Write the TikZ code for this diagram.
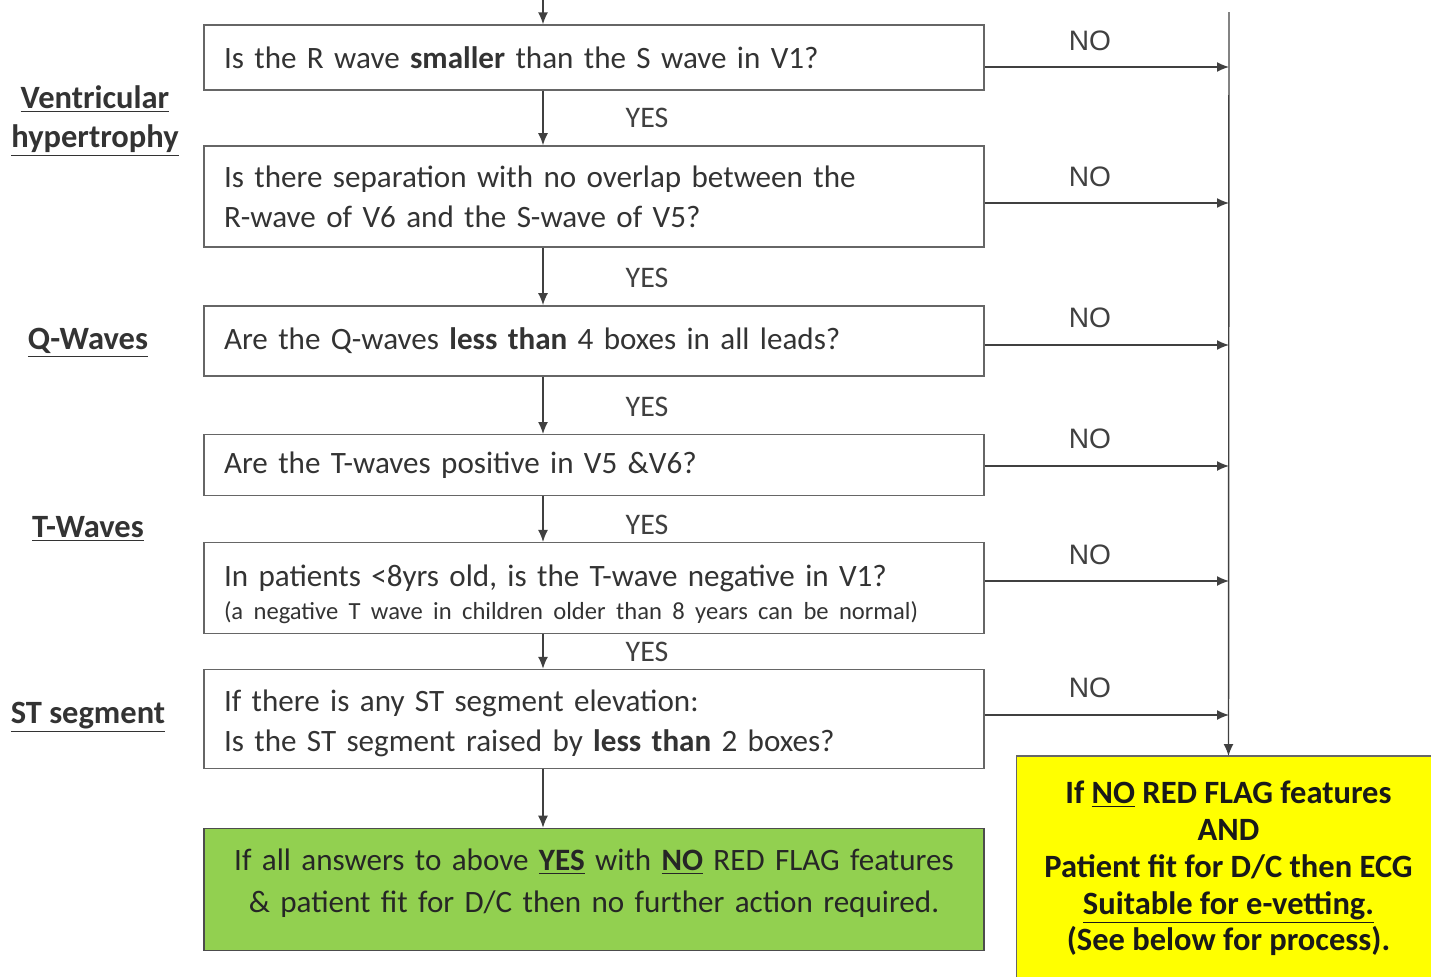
\documentclass[tikz,border=0pt]{standalone}
\usepackage{fontspec}
\setmainfont{Carlito}
\newfontfamily\arialfont{Liberation Sans}
\usetikzlibrary{arrows.meta, positioning}

\definecolor{okgreen}{RGB}{146,208,80}
\definecolor{vetyellow}{RGB}{255,255,0}

\begin{document}
\begin{tikzpicture}[>={Latex[length=2.4mm,width=2mm]}, node distance=1.1cm,
  qbox/.style={draw=black!60, line width=0.8pt, text width=14.8cm,
               inner xsep=0.4cm, align=left, text=black!80,
               font=\fontsize{17.7}{22.8}\selectfont},
  nolab/.style={font=\arialfont\fontsize{16}{18}\selectfont, text=black!75},
  yeslab/.style={font=\fontsize{17}{20}\selectfont, text=black!75},
  sidelab/.style={font=\bfseries\fontsize{18.5}{22}\selectfont, text=black!80, align=center},
  arr/.style={->, line width=0.8pt, draw=black!75}]
  \useasboundingbox (0,0) rectangle (28.62,-19.54);

  % Question boxes (vertical)
  \node[qbox, minimum height=1.3cm] (q1) at (11.88,-1.15)
    {Is the R wave \textbf{smaller} than the S wave in V1?};
  \node[qbox, minimum height=2.02cm, below=1.09cm of q1] (q2)
    {Is there separation with no overlap between the\\
     R-wave of V6 and the S-wave of V5?};
  \node[qbox, minimum height=1.4cm, below=1.15cm of q2] (q3)
    {Are the Q-waves \textbf{less than} 4 boxes in all leads?};
  \node[qbox, minimum height=1.22cm, below=1.15cm of q3] (q4)
    {Are the T-waves positive in V5 \&V6?};
  \node[qbox, minimum height=1.82cm, below=0.91cm of q4] (q5)
    {\rule{0pt}{19pt}In patients <8yrs old, is the T-wave negative in V1?\\[-4pt]
     {\fontsize{14}{16}\selectfont (a negative T wave in children older than 8 years can be normal)}};
  \node[qbox, minimum height=1.98cm, below=0.69cm of q5] (q6)
    {\rule{0pt}{17pt}If there is any ST segment elevation:\\
     Is the ST segment raised by \textbf{less than} 2 boxes?};

  % Outcome boxes
  \node[qbox, fill=okgreen, draw=black!70, align=center, text=black!85,
        font=\fontsize{17.7}{24}\selectfont,
        minimum height=2.44cm, below=1.17cm of q6] (done)
    {If all answers to above \textbf{\underline{YES}} with \textbf{\underline{NO}} RED FLAG features\\
     \& patient fit for D/C then no further action required.\\[-14pt]\mbox{}};
  \node[fill=vetyellow, anchor=north, minimum width=8.46cm, minimum height=4.48cm,
        align=center, font=\bfseries\fontsize{18.5}{21}\selectfont,
        text=black!90] (vet) at (24.57,-15.12)
    {If \underline{NO} RED FLAG features\\ AND\\
     Patient fit for D/C then ECG\\ \underline{Suitable for e-vetting.}\\
     (See below for process).};
  \draw[draw=black!60, line width=0.8pt] (vet.south west) -- (vet.north west) -- (vet.north east);

  % Section labels
  \node[sidelab] (lvh) at (1.9,-2.42) {\underline{Ventricular}\\\underline{hypertrophy}};
  \node[sidelab] (lq) at (1.76,-6.86) {\underline{Q-Waves}};
  \node[sidelab] (lt) at (1.76,-10.58) {\underline{T-Waves}};
  \node[sidelab] (lst) at (1.76,-14.34) {\underline{ST segment}};

  % YES path
  \coordinate (entry) at (10.86,0);
  \draw[arr] (entry) -- (q1.north -| entry);
  \draw[arr] (q1.south -| entry) -- (q2.north -| entry);
  \draw[arr] (q2.south -| entry) -- (q3.north -| entry);
  \draw[arr] (q3.south -| entry) -- (q4.north -| entry);
  \draw[arr] (q4.south -| entry) -- (q5.north -| entry);
  \draw[arr] (q5.south -| entry) -- (q6.north -| entry);
  \draw[arr] (q6.south -| entry) -- (done.north -| entry);
  \node[yeslab] (y1) at (12.94,-2.36) {YES};
  \node[yeslab] (y2) at (12.94,-5.56) {YES};
  \node[yeslab] (y3) at (12.94,-8.14) {YES};
  \node[yeslab] (y4) at (12.94,-10.5) {YES};
  \node[yeslab] (y5) at (12.94,-13.04) {YES};

  % NO path
  \coordinate (rail) at (24.58,-0.24);
  \draw[arr] (rail) -- (vet.north);
  \coordinate (n1) at (24.58,-1.34);
  \coordinate (n2) at (24.58,-4.06);
  \coordinate (n3) at (24.58,-6.9);
  \coordinate (n4) at (24.58,-9.32);
  \coordinate (n5) at (24.58,-11.62);
  \coordinate (n6) at (24.58,-14.3);
  \draw[arr] (q1.east |- n1) -- (n1);
  \draw[arr] (q2.east |- n2) -- (n2);
  \draw[arr] (q3.east |- n3) -- (n3);
  \draw[arr] (q4.east |- n4) -- (n4);
  \draw[arr] (q5.east |- n5) -- (n5);
  \draw[arr] (q6.east |- n6) -- (n6);
  \node[nolab] (no1) at (21.8,-0.82) {NO};
  \node[nolab] (no2) at (21.8,-3.54) {NO};
  \node[nolab] (no3) at (21.8,-6.36) {NO};
  \node[nolab] (no4) at (21.8,-8.78) {NO};
  \node[nolab] (no5) at (21.8,-11.1) {NO};
  \node[nolab] (no6) at (21.8,-13.76) {NO};
\end{tikzpicture}
\end{document}
